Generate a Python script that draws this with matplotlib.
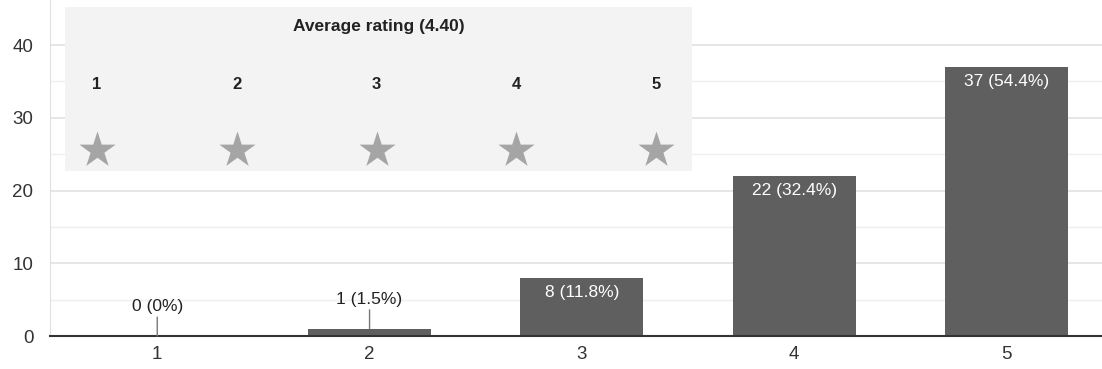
import numpy as np
import matplotlib.pyplot as plt

plt.rcParams['font.family'] = ['Liberation Sans', 'DejaVu Sans']

# Data
ratings = [1, 2, 3, 4, 5]
counts = [0, 1, 8, 22, 37]
labels = ['0 (0%)', '1 (1.5%)', '8 (11.8%)', '22 (32.4%)', '37 (54.4%)']
title = 'Average rating (4.40)'

bar_color = '#5f5f5f'

fig = plt.figure(figsize=(11.02, 3.69), dpi=100)
ax = fig.add_axes([0.0454, 0.0894, 0.9546, 0.9106])

ax.bar(ratings, counts, width=0.58, color=bar_color, zorder=3)
ax.set_xlim(0.495, 5.45)
ax.set_ylim(0, 46.2)

# grid
ax.set_yticks([0, 10, 20, 30, 40])
ax.set_yticks([5, 15, 25, 35], minor=True)
ax.grid(axis='y', which='major', color='#e2e2e2', lw=1.2, zorder=0)
ax.grid(axis='y', which='minor', color='#efefef', lw=1.0, zorder=0)
ax.tick_params(axis='y', which='both', length=0, labelsize=13.5, colors='#333333', pad=12)
ax.tick_params(axis='x', length=0, labelsize=13.5, colors='#333333', pad=7)
ax.set_xticks(ratings)

for s in ['top', 'right']:
    ax.spines[s].set_visible(False)
ax.spines['left'].set_color('#e0e0e0')
ax.spines['bottom'].set_color('#333333')
ax.spines['bottom'].set_linewidth(1.5)
ax.spines['bottom'].set_zorder(4)

# bar labels
for x, c, lab in zip(ratings, counts, labels):
    if c >= 5:
        ax.annotate(lab, (x, c), xytext=(0, -10.5), textcoords='offset points',
                    ha='center', va='center', color='white', fontsize=12.5, zorder=5)
    else:
        ax.annotate(lab, (x, c), xytext=(0, 21), textcoords='offset points',
                    ha='center', va='center', color='#222222', fontsize=12.5, zorder=5,
                    arrowprops=dict(arrowstyle='-', color='#777777', lw=1,
                                    shrinkA=0, shrinkB=0))

# rating legend box
box = fig.add_axes([0.059, 0.537, 0.569, 0.444])
box.set_facecolor('#f3f3f3')
box.set_xlim(0, 1)
box.set_ylim(0, 1)
box.set_xticks([])
box.set_yticks([])
for s in box.spines.values():
    s.set_visible(False)
box.text(0.5, 0.878, title, ha='center', va='center', fontsize=12.5, fontweight='bold', color='#222222')
star_x = np.linspace(0.051, 0.943, len(ratings))
for sx, r in zip(star_x, ratings):
    box.text(sx, 0.524, str(r), ha='center', va='center', fontsize=12, fontweight='bold', color='#222222')
box.scatter(star_x, np.full(len(ratings), 0.128), marker='*', s=750, color='#a5a5a5', linewidths=0)

fig.savefig('out.png', dpi=100)
